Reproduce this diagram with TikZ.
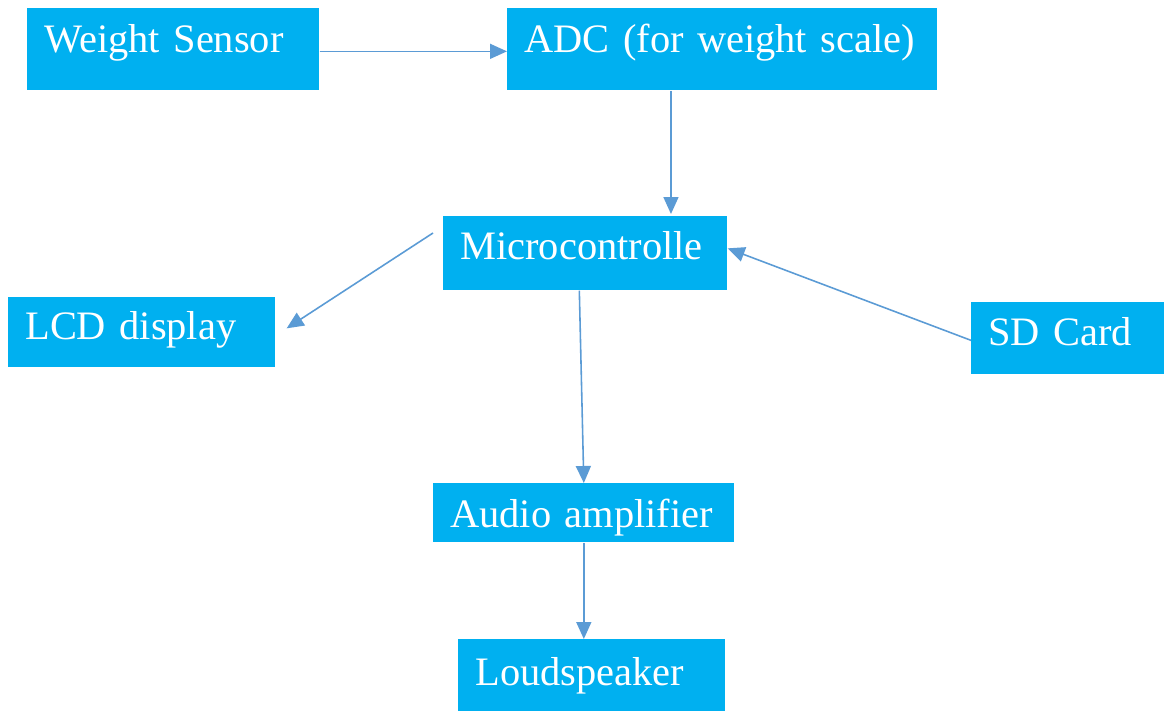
\documentclass[tikz,border=0pt]{standalone}
\usepackage{fontspec}
\setmainfont{Liberation Serif}
\usepackage{tikz}
\usetikzlibrary{arrows.meta}
\definecolor{boxblue}{HTML}{00B0F0}
\definecolor{linkblue}{HTML}{5B9BD5}
\begin{document}
\begin{tikzpicture}[x=0.02cm, y=-0.02cm,
	block/.style={fill=boxblue, text=white, anchor=north west, align=left,
		inner xsep=0.34cm, inner ysep=0pt, font=\fontsize{23}{26}\selectfont},
	link/.style={draw=linkblue, fill=linkblue, line width=0.9pt, -{Triangle[length=0.34cm, width=0.3cm]}}]
\useasboundingbox (0,0) rectangle (1164,711);
\node[block, text width=5.16cm, text height=0.88cm, text depth=0.76cm] (ws) at (27,8) {Weight Sensor};
\node[block, text width=7.92cm, text height=0.88cm, text depth=0.76cm] (adc) at (507,8) {ADC (for weight scale)};
\node[block, text width=5.00cm, text height=0.86cm, text depth=0.62cm] (mcu) at (443,216) {Microcontrolle};
\node[block, text width=4.66cm, text height=0.84cm, text depth=0.56cm] (lcd) at (8,297) {LCD display};
\node[block, text width=3.18cm, text height=0.86cm, text depth=0.58cm] (sd) at (971,302) {SD Card};
\node[block, text width=5.34cm, text height=0.88cm, text depth=0.30cm] (amp) at (433,483) {Audio amplifier};
\node[block, text width=4.66cm, text height=0.92cm, text depth=0.52cm] (spk) at (458,639) {Loudspeaker};
\path[every edge/.style=link]
([yshift=-0.04cm]ws.east) edge ([yshift=-0.04cm]adc.west)
([xshift=3.28cm]adc.south west) edge ([xshift=3.28cm, yshift=0.04cm]adc.south west |- mcu.north)
([xshift=-0.2cm, yshift=-0.34cm]mcu.north west) edge ([xshift=0.22cm, yshift=0.08cm]lcd.east)
([yshift=-0.04cm]sd.west) edge ([yshift=0.1cm]mcu.east)
([xshift=-0.12cm]mcu.south) edge (amp.north)
(amp.south) edge (amp.south |- spk.north)
;
\end{tikzpicture}
\end{document}
